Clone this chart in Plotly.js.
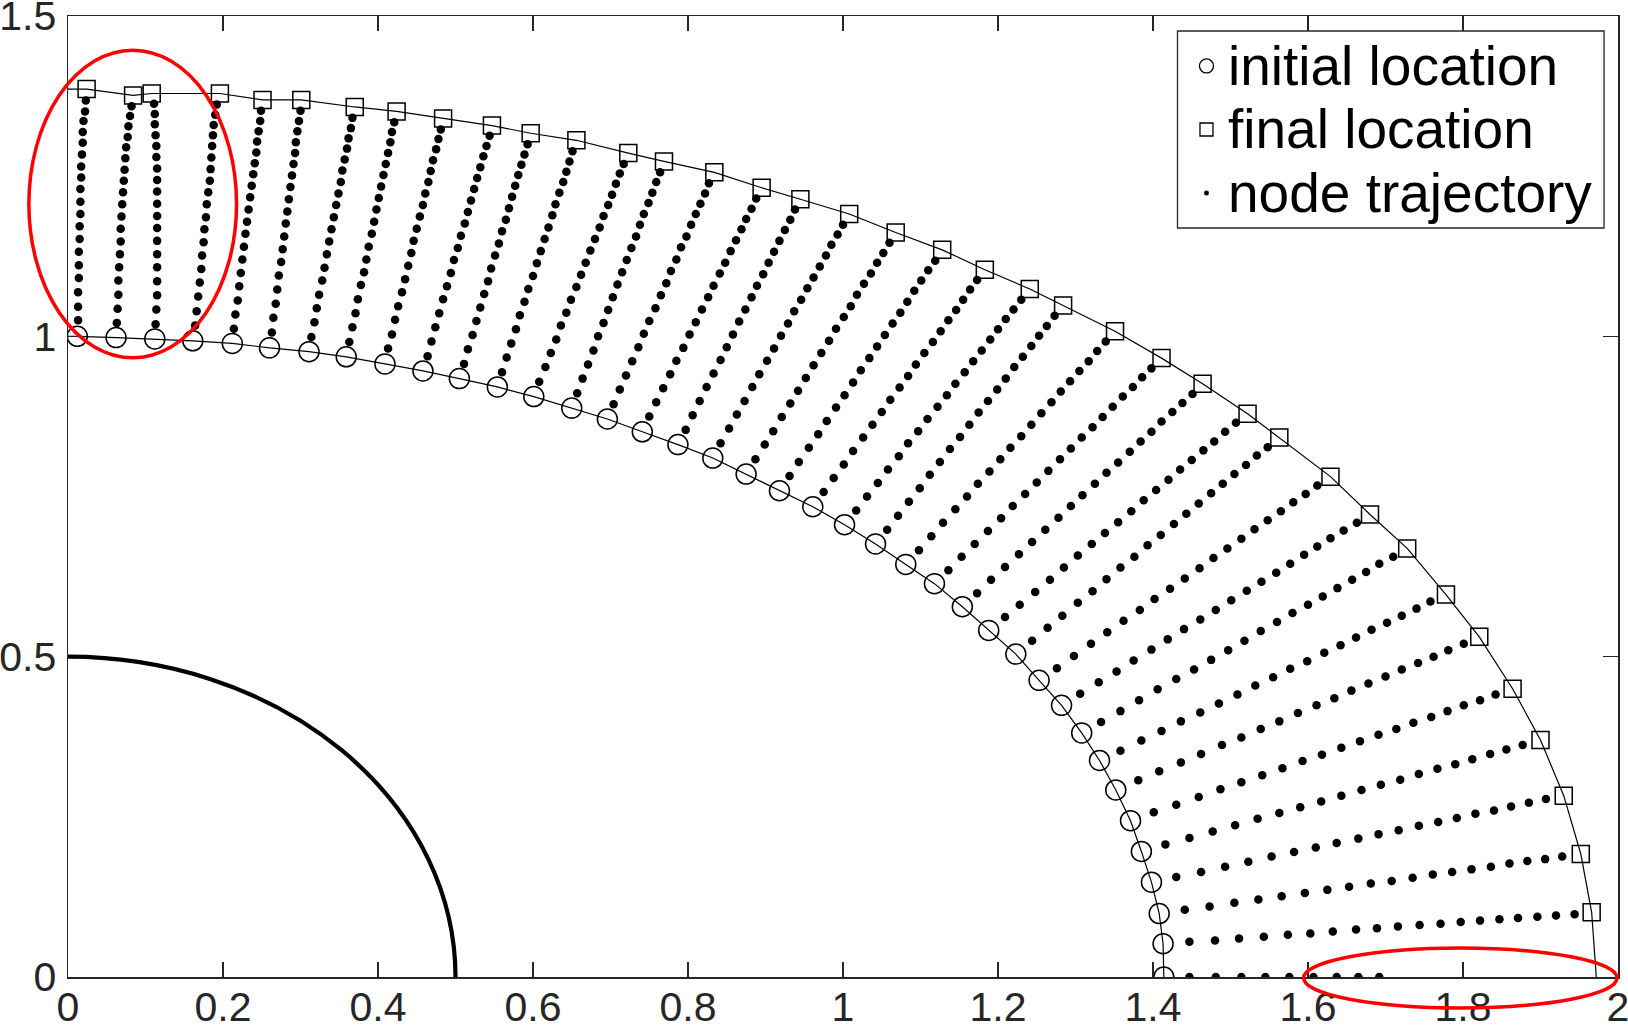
<!DOCTYPE html>
<html><head><meta charset="utf-8">
<script src="https://cdn.plot.ly/plotly-3.0.1.min.js"></script>
<style>html,body{margin:0;padding:0;background:#fff;}#chart{width:1628px;height:1029px;}</style>
</head><body><div id="chart"></div>
<script>
// ---- initial node locations (circles) ----
const initX = [0.012,0.062,0.112,0.161,0.212,0.260,0.311,0.359,0.409,0.458,0.505,0.554,0.601,0.650,0.696,0.741,0.787,0.832,0.875,0.918,0.961,1.002,1.042,1.081,1.118,1.154,1.188,1.223,1.253,1.282,1.308,1.331,1.352,1.371,1.385,1.398,1.408,1.413,1.414];
const initY = [1.000,0.998,0.996,0.993,0.989,0.982,0.976,0.968,0.957,0.946,0.934,0.921,0.906,0.888,0.871,0.851,0.831,0.810,0.785,0.759,0.734,0.706,0.676,0.644,0.614,0.578,0.541,0.504,0.463,0.424,0.381,0.338,0.292,0.244,0.196,0.148,0.099,0.052,0.000];
// ---- final node locations (squares) ----
const finalX = [0.024,0.084,0.108,0.196,0.251,0.301,0.370,0.424,0.484,0.547,0.597,0.656,0.723,0.769,0.834,0.895,0.945,1.008,1.068,1.128,1.183,1.241,1.284,1.351,1.411,1.464,1.522,1.563,1.629,1.680,1.728,1.778,1.821,1.864,1.900,1.930,1.952,1.966];
const finalY = [1.386,1.376,1.379,1.379,1.369,1.369,1.358,1.351,1.340,1.329,1.317,1.306,1.286,1.273,1.256,1.232,1.214,1.191,1.162,1.135,1.104,1.074,1.048,1.008,0.966,0.926,0.879,0.842,0.781,0.722,0.669,0.597,0.531,0.450,0.370,0.283,0.192,0.101];
// boundary end points of the two curves
const initCurveStart = [0, 1.0];
const finalCurveStart = [0, 1.386];
const finalCurveEnd = [1.972, 0];
const innerRadius = 0.5;

// ---- node trajectories (intermediate positions) ----
const t01x=[.013,.013,.013,.014,.014,.014,.015,.015,.016,.016,.016,.017,.017,.018,.019,.019,.020,.022,.023];
const t01y=[1.025,1.046,1.069,1.091,1.111,1.132,1.152,1.172,1.191,1.210,1.230,1.248,1.265,1.284,1.302,1.319,1.336,1.351,1.368];
const t02x=[.063,.064,.065,.065,.066,.067,.068,.068,.069,.070,.071,.072,.073,.074,.075,.077,.078,.080,.082];
const t02y=[1.021,1.043,1.065,1.087,1.108,1.128,1.148,1.168,1.187,1.206,1.225,1.243,1.260,1.278,1.295,1.311,1.328,1.344,1.359];
const t03x=[.113,.114,.115,.115,.115,.115,.115,.115,.115,.115,.115,.115,.115,.114,.114,.113,.112,.112,.111];
const t03y=[1.019,1.042,1.064,1.086,1.108,1.128,1.149,1.169,1.188,1.207,1.226,1.244,1.262,1.280,1.297,1.314,1.331,1.347,1.363];
const t04x=[.164,.166,.168,.170,.172,.173,.175,.176,.178,.179,.181,.183,.184,.185,.186,.187,.188,.190,.192];
const t04y=[1.017,1.039,1.062,1.084,1.105,1.126,1.147,1.167,1.186,1.206,1.225,1.243,1.261,1.279,1.297,1.314,1.330,1.346,1.362];
const t05x=[.214,.216,.219,.221,.223,.225,.227,.229,.231,.233,.235,.237,.239,.241,.243,.244,.246,.248,.249];
const t05y=[1.012,1.034,1.056,1.078,1.099,1.120,1.140,1.160,1.179,1.198,1.217,1.235,1.253,1.270,1.287,1.304,1.320,1.336,1.352];
const t06x=[.263,.265,.268,.270,.272,.275,.277,.279,.281,.283,.285,.287,.289,.291,.293,.294,.296,.298,.300];
const t06y=[1.006,1.029,1.051,1.073,1.095,1.116,1.136,1.156,1.176,1.195,1.214,1.233,1.251,1.269,1.286,1.303,1.320,1.336,1.352];
const t07x=[.314,.318,.321,.324,.328,.331,.334,.337,.340,.343,.346,.349,.352,.354,.357,.360,.362,.365,.367];
const t07y=[.999,1.022,1.044,1.065,1.087,1.107,1.128,1.148,1.167,1.186,1.205,1.223,1.241,1.259,1.276,1.293,1.309,1.325,1.341];
const t08x=[.363,.367,.371,.374,.378,.382,.385,.388,.392,.395,.398,.401,.404,.407,.410,.413,.416,.418,.421];
const t08y=[.991,1.014,1.036,1.058,1.080,1.100,1.120,1.140,1.160,1.179,1.198,1.216,1.234,1.252,1.269,1.286,1.303,1.319,1.334];
const t09x=[.413,.418,.422,.426,.431,.435,.439,.443,.446,.450,.454,.458,.461,.465,.468,.471,.475,.478,.481];
const t09y=[.981,1.003,1.026,1.047,1.069,1.089,1.110,1.130,1.149,1.168,1.187,1.205,1.223,1.241,1.258,1.275,1.292,1.308,1.323];
const t10x=[.464,.469,.474,.479,.484,.489,.494,.498,.503,.507,.512,.516,.520,.524,.528,.532,.536,.540,.544];
const t10y=[.969,.992,1.014,1.036,1.058,1.078,1.099,1.119,1.138,1.157,1.176,1.194,1.212,1.230,1.247,1.264,1.281,1.297,1.313];
const t11x=[.511,.516,.522,.527,.532,.537,.542,.546,.551,.556,.560,.565,.569,.573,.577,.581,.585,.589,.593];
const t11y=[.957,.980,1.002,1.024,1.045,1.066,1.086,1.106,1.126,1.145,1.164,1.182,1.200,1.218,1.235,1.252,1.268,1.284,1.300];
const t12x=[.560,.566,.572,.578,.583,.589,.594,.600,.605,.610,.615,.620,.625,.629,.634,.639,.643,.647,.651];
const t12y=[.944,.967,.989,1.011,1.033,1.054,1.074,1.094,1.114,1.133,1.152,1.170,1.189,1.206,1.224,1.241,1.257,1.273,1.289];
const t13x=[.608,.616,.623,.630,.636,.643,.649,.656,.662,.668,.674,.680,.686,.691,.697,.702,.707,.712,.717];
const t13y=[.929,.952,.974,.995,1.017,1.037,1.057,1.077,1.096,1.115,1.134,1.152,1.170,1.188,1.205,1.221,1.238,1.254,1.269];
const t14x=[.657,.664,.671,.678,.684,.691,.697,.703,.709,.715,.721,.727,.733,.738,.743,.749,.754,.759,.764];
const t14y=[.911,.934,.956,.978,1.000,1.021,1.041,1.061,1.081,1.100,1.119,1.138,1.156,1.174,1.191,1.208,1.224,1.241,1.256];
const t15x=[.704,.712,.720,.728,.736,.743,.750,.758,.765,.772,.778,.785,.791,.798,.804,.810,.816,.822,.827];
const t15y=[.894,.917,.939,.961,.983,1.004,1.024,1.044,1.064,1.083,1.102,1.120,1.139,1.156,1.174,1.191,1.207,1.223,1.239];
const t16x=[.750,.759,.768,.777,.785,.794,.802,.810,.818,.826,.833,.841,.848,.855,.862,.869,.875,.882,.888];
const t16y=[.875,.897,.919,.941,.962,.982,1.003,1.022,1.042,1.061,1.079,1.098,1.115,1.133,1.150,1.167,1.183,1.199,1.215];
const t17x=[.797,.806,.815,.824,.833,.842,.850,.858,.866,.874,.882,.889,.897,.904,.911,.918,.925,.932,.938];
const t17y=[.854,.877,.899,.921,.942,.963,.983,1.003,1.023,1.042,1.061,1.079,1.097,1.115,1.132,1.149,1.166,1.182,1.198];
const t18x=[.842,.853,.863,.873,.883,.892,.902,.911,.920,.929,.937,.946,.954,.962,.970,.978,.985,.993,1.000];
const t18y=[.833,.856,.878,.899,.921,.941,.962,.981,1.001,1.020,1.039,1.057,1.075,1.092,1.109,1.126,1.143,1.159,1.174];
const t19x=[.887,.899,.910,.921,.932,.942,.952,.962,.972,.982,.991,1.001,1.010,1.018,1.027,1.036,1.044,1.052,1.060];
const t19y=[.808,.831,.852,.874,.895,.915,.935,.955,.974,.993,1.012,1.030,1.047,1.065,1.082,1.098,1.115,1.130,1.146];
const t20x=[.931,.943,.956,.968,.979,.991,1.002,1.013,1.023,1.034,1.044,1.054,1.064,1.074,1.083,1.092,1.101,1.110,1.119];
const t20y=[.782,.804,.826,.847,.868,.889,.908,.928,.947,.966,.984,1.002,1.020,1.037,1.054,1.071,1.087,1.103,1.118];
const t21x=[.975,.988,1.001,1.013,1.026,1.038,1.050,1.061,1.073,1.084,1.094,1.105,1.116,1.126,1.136,1.146,1.155,1.164,1.173];
const t21y=[.757,.779,.800,.821,.842,.862,.882,.901,.920,.938,.956,.974,.991,1.008,1.025,1.041,1.057,1.073,1.088];
const t22x=[1.017,1.031,1.045,1.058,1.072,1.084,1.097,1.109,1.122,1.134,1.145,1.157,1.168,1.179,1.190,1.200,1.210,1.220,1.230];
const t22y=[.728,.750,.771,.792,.813,.833,.852,.871,.890,.908,.926,.944,.961,.978,.995,1.011,1.027,1.042,1.057];
const t23x=[1.057,1.071,1.085,1.099,1.112,1.125,1.138,1.151,1.163,1.175,1.187,1.199,1.210,1.221,1.232,1.243,1.253,1.263,1.273];
const t23y=[.698,.720,.742,.763,.784,.804,.824,.843,.862,.881,.899,.917,.934,.952,.968,.985,1.001,1.016,1.032];
const t24x=[1.098,1.114,1.129,1.145,1.160,1.174,1.189,1.203,1.216,1.230,1.243,1.256,1.269,1.281,1.293,1.305,1.317,1.328,1.339];
const t24y=[.666,.688,.709,.730,.750,.770,.789,.808,.826,.844,.862,.880,.897,.914,.930,.946,.961,.977,.992];
const t25x=[1.136,1.153,1.170,1.187,1.204,1.219,1.235,1.250,1.265,1.280,1.294,1.308,1.322,1.335,1.348,1.361,1.374,1.386,1.398];
const t25y=[.635,.656,.676,.696,.716,.735,.754,.772,.790,.808,.825,.842,.858,.874,.890,.906,.921,.936,.950];
const t26x=[1.173,1.191,1.209,1.227,1.244,1.261,1.278,1.294,1.309,1.325,1.340,1.355,1.370,1.384,1.398,1.411,1.425,1.438,1.451];
const t26y=[.599,.620,.640,.660,.679,.698,.717,.735,.752,.770,.787,.803,.820,.836,.851,.867,.882,.896,.910];
const t27x=[1.209,1.228,1.248,1.267,1.285,1.303,1.321,1.338,1.355,1.372,1.388,1.404,1.420,1.435,1.450,1.465,1.479,1.493,1.507];
const t27y=[.562,.581,.601,.620,.639,.658,.676,.693,.710,.727,.744,.760,.776,.792,.807,.822,.836,.851,.865];
const t28x=[1.244,1.264,1.283,1.303,1.322,1.340,1.358,1.376,1.393,1.410,1.427,1.443,1.459,1.475,1.490,1.505,1.520,1.534,1.548];
const t28y=[.525,.545,.564,.584,.602,.621,.639,.656,.674,.690,.707,.723,.739,.755,.770,.785,.799,.814,.827];
const t29x=[1.276,1.298,1.320,1.341,1.362,1.383,1.402,1.422,1.441,1.460,1.478,1.496,1.514,1.531,1.548,1.565,1.581,1.597,1.612];
const t29y=[.482,.501,.520,.538,.556,.573,.590,.606,.622,.638,.654,.669,.684,.699,.713,.727,.741,.754,.767];
const t30x=[1.306,1.330,1.353,1.375,1.398,1.419,1.440,1.461,1.481,1.501,1.521,1.540,1.559,1.577,1.595,1.612,1.629,1.646,1.663];
const t30y=[.442,.460,.477,.494,.511,.527,.543,.558,.573,.588,.603,.617,.631,.645,.659,.672,.685,.697,.709];
const t31x=[1.333,1.358,1.382,1.406,1.430,1.453,1.475,1.497,1.518,1.539,1.560,1.580,1.600,1.619,1.638,1.657,1.675,1.692,1.710];
const t31y=[.398,.415,.432,.449,.465,.480,.495,.510,.525,.540,.554,.568,.581,.594,.607,.620,.632,.645,.656];
const t32x=[1.358,1.385,1.411,1.436,1.461,1.485,1.509,1.532,1.555,1.577,1.599,1.621,1.642,1.662,1.682,1.702,1.721,1.740,1.758];
const t32y=[.353,.369,.384,.399,.413,.427,.441,.455,.468,.481,.493,.506,.518,.530,.542,.553,.564,.575,.586];
const t33x=[1.381,1.408,1.436,1.462,1.489,1.514,1.539,1.563,1.587,1.611,1.634,1.656,1.678,1.700,1.721,1.742,1.762,1.781,1.801];
const t33y=[.307,.321,.335,.348,.362,.374,.387,.399,.412,.424,.435,.447,.458,.469,.480,.490,.500,.510,.520];
const t34x=[1.401,1.430,1.459,1.487,1.514,1.541,1.567,1.593,1.618,1.643,1.667,1.691,1.714,1.736,1.759,1.780,1.801,1.822,1.842];
const t34y=[.257,.269,.281,.293,.304,.315,.326,.337,.347,.358,.368,.378,.387,.397,.406,.415,.424,.432,.441];
const t35x=[1.416,1.447,1.477,1.506,1.535,1.563,1.590,1.617,1.643,1.669,1.694,1.719,1.743,1.767,1.790,1.812,1.835,1.856,1.877];
const t35y=[.207,.217,.227,.237,.247,.256,.265,.274,.283,.292,.300,.308,.317,.325,.332,.340,.348,.355,.362];
const t36x=[1.430,1.462,1.493,1.523,1.553,1.582,1.610,1.637,1.665,1.691,1.717,1.743,1.768,1.792,1.816,1.840,1.862,1.885,1.907];
const t36y=[.156,.164,.172,.180,.188,.195,.202,.209,.216,.223,.229,.236,.242,.248,.255,.260,.266,.272,.278];
const t37x=[1.441,1.473,1.505,1.536,1.566,1.596,1.625,1.653,1.681,1.708,1.735,1.761,1.786,1.811,1.836,1.860,1.883,1.906,1.928];
const t37y=[.105,.110,.116,.121,.126,.131,.136,.141,.146,.150,.155,.160,.164,.168,.172,.177,.181,.184,.188];
const t38x=[1.447,1.480,1.511,1.543,1.574,1.603,1.632,1.662,1.689,1.716,1.744,1.771,1.797,1.822,1.847,1.871,1.896,1.920,1.944];
const t38y=[.055,.057,.060,.063,.066,.068,.071,.074,.076,.079,.081,.083,.086,.088,.090,.092,.094,.096,.098];
const t39x=[1.447,1.481,1.514,1.545,1.576,1.607,1.637,1.665,1.692];
const t39y=[0,0,0,0,0,0,0,0,0];

// ---- highlight ellipses (data units: centre and radii) ----
const markCx = [0.0835, 1.7966];
const markCy = [1.2066, -0.0016];
const markRx = [0.134, 0.2022];
const markRy = [0.240, 0.0468];

// ---- axes / labels ----
const xRange = [0, 2], yRange = [0, 1.5];
const xTickVals = [0,0.2,0.4,0.6,0.8,1,1.2,1.4,1.6,1.8,2];
const xTickText = ['0','0.2','0.4','0.6','0.8','1','1.2','1.4','1.6','1.8','2'];
const yTickVals = [0,0.5,1,1.5];
const yTickText = ['0','0.5','1','1.5'];
const legendLabels = ['initial location','final location','node trajectory'];

// ---- build traces ----
const trajX = [t01x,t02x,t03x,t04x,t05x,t06x,t07x,t08x,t09x,t10x,t11x,t12x,t13x,t14x,t15x,t16x,t17x,t18x,t19x,t20x,t21x,t22x,t23x,t24x,t25x,t26x,t27x,t28x,t29x,t30x,t31x,t32x,t33x,t34x,t35x,t36x,t37x,t38x,t39x];
const trajY = [t01y,t02y,t03y,t04y,t05y,t06y,t07y,t08y,t09y,t10y,t11y,t12y,t13y,t14y,t15y,t16y,t17y,t18y,t19y,t20y,t21y,t22y,t23y,t24y,t25y,t26y,t27y,t28y,t29y,t30y,t31y,t32y,t33y,t34y,t35y,t36y,t37y,t38y,t39y];
const dotsX = [].concat(...trajX);
const dotsY = [].concat(...trajY);

const FONT = '"Liberation Sans", Arial, Helvetica, sans-serif';
const INK = '#262626';

const traces = [
  {x:[initCurveStart[0]].concat(initX), y:[initCurveStart[1]].concat(initY), mode:'lines',
   line:{color:'black', width:1.2}, showlegend:false, hoverinfo:'skip'},
  {x:[finalCurveStart[0]].concat(finalX, [finalCurveEnd[0]]), y:[finalCurveStart[1]].concat(finalY, [finalCurveEnd[1]]), mode:'lines',
   line:{color:'black', width:1.2}, showlegend:false, hoverinfo:'skip'},
  {x:initX, y:initY, mode:'markers', name:legendLabels[0], showlegend:false,
   marker:{symbol:'circle-open', size:20, color:'black', line:{width:1.5, color:'black'}}},
  {x:finalX, y:finalY, mode:'markers', name:legendLabels[1], showlegend:false,
   marker:{symbol:'square-open', size:17, color:'black', line:{width:1.5, color:'black'}}},
  {x:dotsX, y:dotsY, mode:'markers', name:legendLabels[2], showlegend:false,
   marker:{symbol:'circle', size:8.5, color:'black'}}
];

const toPaperX = v => (v - xRange[0]) / (xRange[1] - xRange[0]);
const toPaperY = v => (v - yRange[0]) / (yRange[1] - yRange[0]);

const shapes = [
  {type:'circle', xref:'x', yref:'y', x0:-innerRadius, x1:innerRadius, y0:-innerRadius, y1:innerRadius,
   line:{color:'black', width:4.2}, layer:'above'}
];
markCx.forEach((cx, i) => {
  shapes.push({type:'circle', xref:'paper', yref:'paper',
    x0:toPaperX(cx - markRx[i]), x1:toPaperX(cx + markRx[i]),
    y0:toPaperY(markCy[i] - markRy[i]), y1:toPaperY(markCy[i] + markRy[i]),
    line:{color:'#ff0000', width:3.5}, layer:'above'});
});

// ---- legend box (drawn in paper coordinates) ----
const LEG = {x0:0.7158, x1:0.991, y0:0.7794, y1:0.9844, symX:0.7345, textX:0.7471, rows:[0.948, 0.8819, 0.8158]};
shapes.push({type:'rect', xref:'paper', yref:'paper', x0:LEG.x0, x1:LEG.x1, y0:LEG.y0, y1:LEG.y1,
  line:{color:INK, width:1.3}, fillcolor:'white', layer:'above'});
shapes.push({type:'circle', xref:'paper', yref:'paper', xsizemode:'pixel', ysizemode:'pixel',
  xanchor:LEG.symX, yanchor:LEG.rows[0], x0:-7, x1:7, y0:-7, y1:7, line:{color:'black', width:1.3}, layer:'above'});
shapes.push({type:'rect', xref:'paper', yref:'paper', xsizemode:'pixel', ysizemode:'pixel',
  xanchor:LEG.symX, yanchor:LEG.rows[1], x0:-6.5, x1:6.5, y0:-6.5, y1:6.5, line:{color:'black', width:1.3}, layer:'above'});
shapes.push({type:'circle', xref:'paper', yref:'paper', xsizemode:'pixel', ysizemode:'pixel',
  xanchor:LEG.symX, yanchor:LEG.rows[2], x0:-2.3, x1:2.3, y0:-2.3, y1:2.3, fillcolor:'black', line:{color:'black', width:0.5}, layer:'above'});

const annotations = legendLabels.map((txt, i) => ({
  xref:'paper', yref:'paper', x:LEG.textX, y:LEG.rows[i], xanchor:'left', yanchor:'middle',
  text:txt, showarrow:false, font:{family:FONT, size:55, color:'black'}
}));

const axisCommon = {
  showgrid:false, zeroline:false, showline:true, linecolor:INK, linewidth:1.5,
  mirror:'ticks', ticks:'inside', ticklen:15, tickwidth:1.5, tickcolor:INK,
  tickfont:{family:FONT, size:41, color:INK}, fixedrange:true, ticklabeloverflow:'allow'
};

const layout = {
  width:1628, height:1029,
  margin:{l:68, r:10, t:16, b:52, pad:0},
  paper_bgcolor:'white', plot_bgcolor:'white',
  font:{family:FONT, color:INK},
  xaxis:Object.assign({}, axisCommon, {range:xRange, tickvals:xTickVals, ticktext:xTickText, ticklabelstandoff:-7}),
  yaxis:Object.assign({}, axisCommon, {range:yRange, tickvals:yTickVals, ticktext:yTickText, ticklabelstandoff:2}),
  showlegend:false,
  shapes:shapes,
  annotations:annotations
};

Plotly.newPlot('chart', traces, layout, {displayModeBar:false, staticPlot:true});
</script>
</body></html>
